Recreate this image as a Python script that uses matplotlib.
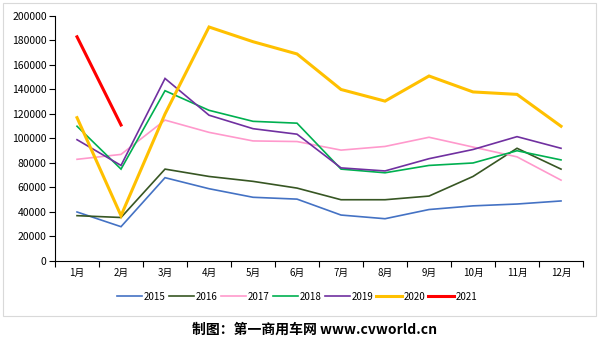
import matplotlib.pyplot as plt
from matplotlib.lines import Line2D
import numpy as np

plt.rcParams['font.family'] = ['Noto Sans CJK SC', 'DejaVu Sans']

# Dados
meses = ["1月", "2月", "3月", "4月", "5月", "6月", "7月", "8月", "9月", "10月", "11月", "12月"]
v2015 = [40000, 28000, 68000, 59000, 52000, 50500, 37500, 34500, 42000, 45000, 46500, 49000]
v2016 = [37000, 35500, 75000, 69000, 65000, 59500, 50000, 50000, 53000, 69000, 92000, 75000]
v2017 = [83000, 87000, 115000, 105000, 98000, 97500, 90500, 93500, 101000, 93000, 85000, 66000]
v2018 = [110000, 75000, 139000, 123000, 114000, 112500, 75000, 72000, 78000, 80000, 90000, 82500]
v2019 = [99000, 78000, 149000, 119000, 108000, 103500, 76000, 73500, 83500, 91000, 101500, 92000]
v2020 = [117000, 37000, 120000, 191000, 179000, 169000, 140000, 130500, 151000, 138000, 136000, 110000]
v2021 = [183000, 111000]

series = [
    ("2015", v2015, "#4472C4", 1.2),
    ("2016", v2016, "#375623", 1.2),
    ("2017", v2017, "#FF99CC", 1.2),
    ("2018", v2018, "#00B050", 1.2),
    ("2019", v2019, "#7030A0", 1.2),
    ("2020", v2020, "#FFC000", 2.2),
    ("2021", v2021, "#FF0000", 2.2),
]

fig = plt.figure(figsize=(6, 3.4), dpi=100)
ax = fig.add_axes([0.0917, 0.2324, 0.88, 0.7206])

x = np.arange(1, 13)
for nome, vals, cor, lw in series:
    ax.plot(x[:len(vals)], vals, color=cor, lw=lw, label=nome, solid_joinstyle="miter")

ax.set_xlim(0.5, 12.5)
ax.set_ylim(0, 200000)
ax.set_yticks(np.arange(0, 200001, 20000))
ax.set_xticks(x)
ax.set_xticklabels(meses)
ax.set_xticks(np.arange(0.5, 12.6, 1), minor=True)
ax.tick_params(axis="x", which="major", length=0, labelsize=7, pad=5)
ax.tick_params(axis="x", which="minor", length=4, direction="out", width=0.8)
ax.tick_params(axis="y", length=4, direction="out", width=0.8, labelsize=7.5, pad=2)
for s in ["top", "right"]:
    ax.spines[s].set_visible(False)
for s in ["left", "bottom"]:
    ax.spines[s].set_linewidth(0.8)

handles = [Line2D([], [], color=c, lw=lw) for _, _, c, lw in series]
fig.legend(handles, [s[0] for s in series], loc="center", bbox_to_anchor=(0.495, 0.127),
           ncol=7, frameon=False, fontsize=7, handlelength=2.6, handletextpad=0.2,
           columnspacing=0.3)

# Moldura e separador
fig.add_artist(plt.Rectangle((0.005, 0.07), 0.988, 0.92, transform=fig.transFigure,
                             fill=False, edgecolor="#D9D9D9", lw=0.8))
fig.text(0.525, 0.03, "制图：第一商用车网 www.cvworld.cn", ha="center", va="center",
         fontsize=10, fontweight="bold")

fig.savefig("out.png", dpi=100, facecolor="white")
